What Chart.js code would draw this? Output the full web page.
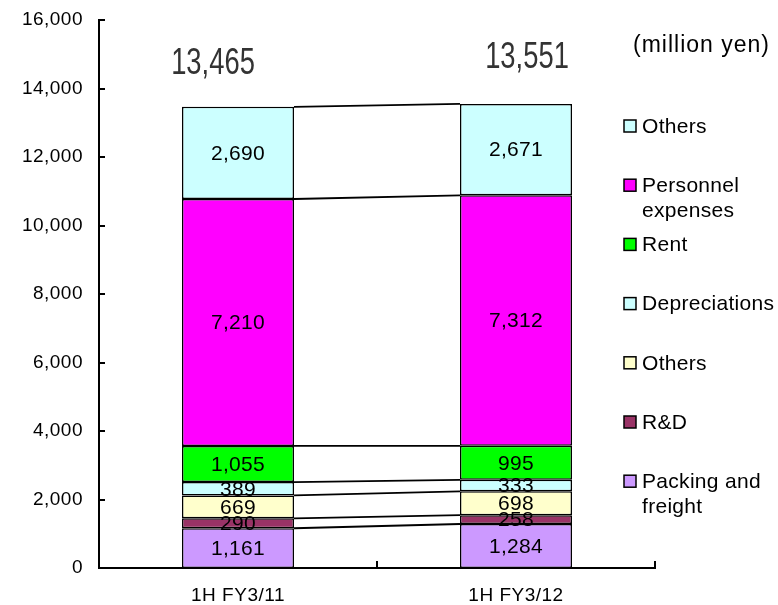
<!DOCTYPE html>
<html>
<head>
<meta charset="utf-8">
<title>SG&amp;A expenses</title>
<script src="https://cdn.jsdelivr.net/npm/chart.js@4.4.1/dist/chart.umd.min.js"></script>
<style>
  html, body { margin: 0; padding: 0; background: #fff; }
  #wrap { position: relative; width: 778px; height: 605px; }
</style>
</head>
<body>
<div id="wrap"><canvas id="chart" width="778" height="605"></canvas></div>
<script>
// Periods on the x axis
const categories = ['1H FY3/11', '1H FY3/12'];

// Expense breakdown, million yen (stacked bottom to top)
const packingFreight = [1161, 1284];
const researchDev = [290, 258];
const othersLower = [669, 698];
const depreciations = [389, 333];
const rent = [1055, 995];
const personnel = [7210, 7312];
const othersUpper = [2690, 2671];

// Totals printed above each bar
const totals = [13465, 13551];

// Value axis ticks
const yTicks = [0, 2000, 4000, 6000, 8000, 10000, 12000, 14000, 16000];

// Series names (legend lines)
const seriesNames = [
  ['Packing and', 'freight'],
  ['R&D'],
  ['Others'],
  ['Depreciations'],
  ['Rent'],
  ['Personnel', 'expenses'],
  ['Others']
];
const seriesColors = ['#CC99FF', '#993366', '#FFFFCC', '#CCFFFF', '#00FF00', '#FF00FF', '#CCFFFF'];
const seriesValues = [packingFreight, researchDev, othersLower, depreciations, rent, personnel, othersUpper];

const unitLabel = '(million yen)';
const fmt = v => v.toLocaleString('en-US');
const FONT = "'Liberation Sans', Arial, Helvetica, sans-serif";

Chart.defaults.font.family = FONT;
Chart.defaults.font.size = 19;
Chart.defaults.color = '#000';

const datasets = seriesValues.map((vals, i) => ({
  label: seriesNames[i].join(' '),
  data: vals,
  backgroundColor: seriesColors[i],
  borderColor: '#000',
  borderWidth: 1.5,
  borderSkipped: false,
  barPercentage: 0.403,
  categoryPercentage: 1.0
}));

// Base text spacing for every label on the canvas
const spacingPlugin = {
  id: 'spacing',
  beforeDraw(chart) { chart.ctx.letterSpacing = '0.5px'; }
};

// Inside tick marks on both axes
const tickMarks = {
  id: 'tickMarks',
  afterDraw(chart) {
    const { ctx, chartArea, scales } = chart;
    ctx.save();
    ctx.strokeStyle = '#000';
    ctx.lineWidth = 2;
    ctx.beginPath();
    yTicks.forEach(v => {
      const y = Math.round(scales.y.getPixelForValue(v));
      ctx.moveTo(chartArea.left, y);
      ctx.lineTo(chartArea.left + 6, y);
    });
    const n = categories.length;
    const w = (chartArea.right - chartArea.left) / n;
    for (let k = 0; k <= n; k++) {
      const x = Math.round(chartArea.left + k * w);
      ctx.moveTo(x, chartArea.bottom);
      ctx.lineTo(x, chartArea.bottom - 7);
    }
    ctx.stroke();
    ctx.restore();
  }
};

// Series lines joining each segment boundary between the two bars,
// segment value labels and the totals above the bars
const barDecor = {
  id: 'barDecor',
  afterDatasetsDraw(chart) {
    const { ctx } = chart;
    ctx.save();
    ctx.strokeStyle = '#000';
    ctx.lineWidth = 1.8;
    chart.data.datasets.forEach((ds, i) => {
      const els = chart.getDatasetMeta(i).data;
      for (let j = 0; j < els.length - 1; j++) {
        const a = els[j], b = els[j + 1];
        ctx.beginPath();
        ctx.moveTo(a.x + a.width / 2, a.y);
        ctx.lineTo(b.x - b.width / 2, b.y);
        ctx.stroke();
      }
    });
    ctx.fillStyle = '#000';
    ctx.font = '21px ' + FONT;
    ctx.letterSpacing = '0.3px';
    ctx.textAlign = 'center';
    ctx.textBaseline = 'middle';
    chart.data.datasets.forEach((ds, i) => {
      chart.getDatasetMeta(i).data.forEach((el, j) => {
        ctx.fillText(fmt(ds.data[j]), el.x, (el.y + el.base) / 2 + 1);
      });
    });
    // totals in a condensed face
    const topMeta = chart.getDatasetMeta(chart.data.datasets.length - 1).data;
    const dx = [-25, 11], dy = [-43, -46];
    topMeta.forEach((el, j) => {
      ctx.save();
      ctx.translate(el.x + dx[j], el.y + dy[j]);
      ctx.scale(0.76, 1);
      ctx.fillStyle = '#333';
      ctx.letterSpacing = '0px';
      ctx.font = '36px ' + FONT;
      ctx.fillText(fmt(totals[j]), 0, 0);
      ctx.restore();
    });
    ctx.restore();
  }
};

// Legend on the right, top series first, plus the unit caption
const sideLegend = {
  id: 'sideLegend',
  afterDraw(chart) {
    const { ctx } = chart;
    ctx.save();
    ctx.textBaseline = 'middle';
    ctx.textAlign = 'left';
    ctx.fillStyle = '#000';
    ctx.letterSpacing = '1px';
    ctx.font = '23px ' + FONT;
    ctx.fillText(unitLabel, 633, 46);
    ctx.letterSpacing = '0.3px';
    ctx.font = '21px ' + FONT;
    const order = seriesNames.map((_, i) => i).reverse();
    const top = 126, step = 59.2, lineH = 25;
    order.forEach((idx, k) => {
      const y = top + k * step;
      ctx.fillStyle = seriesColors[idx];
      ctx.fillRect(624, y - 6, 12, 12);
      ctx.strokeStyle = '#000';
      ctx.lineWidth = 1.5;
      ctx.strokeRect(624, y - 6, 12, 12);
      ctx.fillStyle = '#000';
      seriesNames[idx].forEach((line, l) => {
        ctx.fillText(line, 642, y + l * lineH + 1);
      });
    });
    ctx.restore();
  }
};

new Chart(document.getElementById('chart'), {
  type: 'bar',
  data: { labels: categories, datasets },
  options: {
    responsive: false,
    animation: false,
    events: [],
    layout: { padding: { top: 20, right: 123, left: 0, bottom: 0 } },
    plugins: { legend: { display: false }, tooltip: { enabled: false } },
    scales: {
      x: {
        stacked: true,
        offset: true,
        grid: { display: false, drawTicks: false },
        border: { display: true, color: '#000', width: 2 },
        ticks: { padding: 16, font: { size: 19 }, color: '#000' },
        afterFit(scale) { scale.height = 37; scale.paddingLeft = 0; scale.paddingRight = 0; }
      },
      y: {
        stacked: true,
        min: 0,
        max: 16000,
        afterBuildTicks(scale) { scale.ticks = yTicks.map(v => ({ value: v })); },
        grid: { display: false, drawTicks: false },
        border: { display: true, color: '#000', width: 2 },
        ticks: { padding: 16, font: { size: 19 }, color: '#000', callback: v => fmt(v) },
        afterFit(scale) { scale.width = 99; scale.paddingTop = 0; scale.paddingBottom = 0; }
      }
    }
  },
  plugins: [spacingPlugin, barDecor, tickMarks, sideLegend]
});
</script>
</body>
</html>
